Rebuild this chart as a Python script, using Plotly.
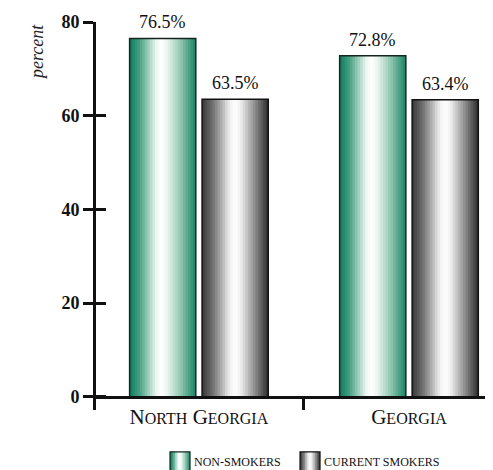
import plotly.graph_objects as go

# ---------------- data ----------------
categories = ["North Georgia", "Georgia"]
series_names = ["Non-smokers", "Current smokers"]
non_smokers = [76.5, 72.8]
current_smokers = [63.5, 63.4]
y_ticks = [0, 20, 40, 60, 80]
y_title = "percent"

# ---------------- style ----------------
FONT = "Liberation Serif"
N_STRIPS = 26
BAR_W = 0.315
OFFSETS = [-0.33, 0.015]
GREEN_STOPS = [(0.0, (14, 124, 94)), (0.15, (70, 160, 130)), (0.40, (235, 246, 241)),
               (0.48, (255, 255, 255)), (0.56, (238, 247, 243)), (0.78, (140, 196, 174)),
               (1.0, (24, 132, 102))]
GRAY_STOPS = [(0.0, (55, 55, 55)), (0.18, (120, 120, 120)), (0.42, (240, 240, 240)),
              (0.5, (255, 255, 255)), (0.58, (240, 240, 240)), (0.8, (140, 140, 140)),
              (1.0, (45, 45, 45))]
STOPS = [GREEN_STOPS, GRAY_STOPS]
OUTLINES = ["#16261f", "#111111"]


def grad(stops, t):
    for (t0, c0), (t1, c1) in zip(stops[:-1], stops[1:]):
        if t0 <= t <= t1:
            f = (t - t0) / (t1 - t0) if t1 > t0 else 0
            c = [round(a + (b - a) * f) for a, b in zip(c0, c1)]
            return "rgb({},{},{})".format(*c)
    c = stops[-1][1]
    return "rgb({},{},{})".format(*c)


def small_caps(text, small=16):
    words = []
    for w in text.split():
        words.append(w[0].upper() + "<span style='font-size:%spx'>%s</span>" % (small, w[1:].upper()))
    return " ".join(words)


fig = go.Figure()

series_values = [non_smokers, current_smokers]
step = BAR_W / N_STRIPS
for s, vals in enumerate(series_values):
    for i in range(N_STRIPS):
        off = OFFSETS[s] + i * step
        w = min(step * 1.6, BAR_W - i * step)
        fig.add_trace(go.Bar(
            x=categories, y=vals, offset=off, width=w,
            marker=dict(color=grad(STOPS[s], (i + 0.5) / N_STRIPS), line=dict(width=0)),
            showlegend=False, hoverinfo="skip"))
    # outline
    fig.add_trace(go.Bar(
        x=categories, y=vals, offset=OFFSETS[s], width=BAR_W,
        name=series_names[s],
        marker=dict(color="rgba(0,0,0,0)", line=dict(color=OUTLINES[s], width=1.5)),
        showlegend=False))
    # value labels
    for ci, v in enumerate(vals):
        fig.add_annotation(x=ci + OFFSETS[s] + BAR_W / 2, y=v, xref="x", yref="y",
                           text="{:.1f}%".format(v), showarrow=False,
                           yanchor="bottom", yshift=4,
                           font=dict(family=FONT, size=18, color="#111"))

# invisible trace for the inner half of y ticks
fig.add_trace(go.Scatter(x=categories, y=[None, None], yaxis="y2",
                         showlegend=False, hoverinfo="skip"))

y_lo, y_hi = -2.8, 80
fig.update_layout(
    width=485, height=462,
    margin=dict(l=88, r=0, t=14, b=60),
    paper_bgcolor="white", plot_bgcolor="white",
    barmode="overlay",
    font=dict(family=FONT, color="#111"),
    xaxis=dict(
        range=[-0.49, 1.4], type="category",
        tickvals=categories,
        ticktext=[small_caps(c) for c in categories],
        tickfont=dict(family=FONT, size=21, color="#111"),
        showline=True, linecolor="#111", linewidth=3,
        ticks="outside", tickson="boundaries", ticklen=11, tickwidth=3, tickcolor="#111",
        anchor="free", position=(0 - y_lo) / (y_hi - y_lo),
        showgrid=False, zeroline=False),
    yaxis=dict(
        range=[y_lo, y_hi], tickvals=y_ticks,
        tickfont=dict(family=FONT, size=18, color="#111", weight="bold"),
        showline=True, linecolor="#111", linewidth=3,
        ticks="outside", ticklen=10, tickwidth=3, tickcolor="#111",
        showgrid=False, zeroline=False),
    yaxis2=dict(
        range=[y_lo, y_hi], tickvals=y_ticks, overlaying="y", side="left",
        ticks="inside", ticklen=10, tickwidth=3, tickcolor="#111",
        showticklabels=False, showgrid=False, zeroline=False, showline=False),
)

# y title
fig.add_annotation(text="<i>%s</i>" % y_title, xref="paper", yref="paper",
                   x=-0.149, y=0.922, textangle=-90, showarrow=False,
                   font=dict(family=FONT, size=18, color="#222"),
                   xanchor="center", yanchor="middle")

# manual legend with gradient swatches
leg_x = [0.1864, 0.5139]
sw_w = 0.0504
y0p, y1p = -0.162, -0.108
NS = 12
for s, name in enumerate(series_names):
    for i in range(NS):
        x0 = leg_x[s] + i * sw_w / NS
        fig.add_shape(type="rect", xref="paper", yref="paper",
                      x0=x0, x1=min(x0 + sw_w / NS * 1.6, leg_x[s] + sw_w),
                      y0=y0p, y1=y1p, line=dict(width=0),
                      fillcolor=grad(STOPS[s], (i + 0.5) / NS))
    fig.add_shape(type="rect", xref="paper", yref="paper",
                  x0=leg_x[s], x1=leg_x[s] + sw_w, y0=y0p, y1=y1p,
                  line=dict(color=OUTLINES[s], width=1.2), fillcolor="rgba(0,0,0,0)")
    fig.add_annotation(text=name.upper(), xref="paper", yref="paper",
                       x=leg_x[s] + sw_w + 0.006, y=-0.134, showarrow=False,
                       xanchor="left", yanchor="middle",
                       font=dict(family=FONT, size=12, color="#111"))

fig.write_html("out.html")
